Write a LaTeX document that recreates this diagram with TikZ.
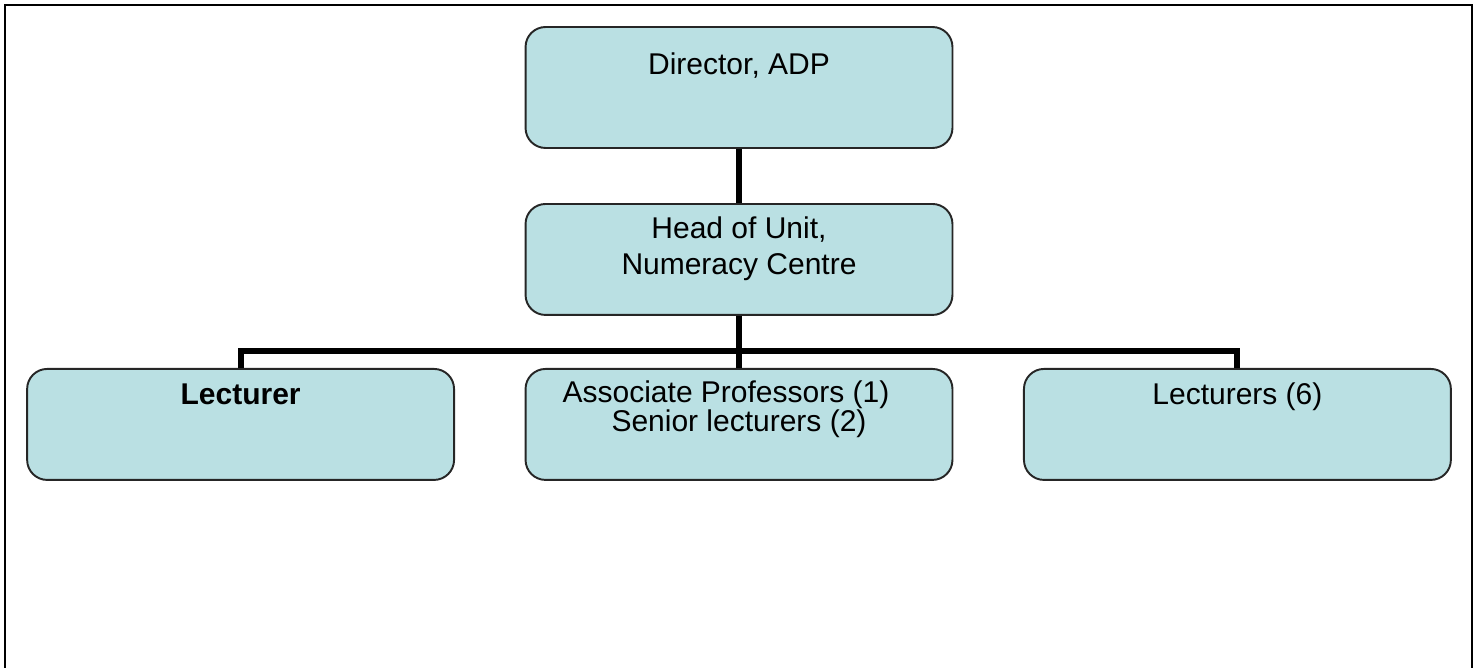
\documentclass[tikz,border=0pt]{standalone}
\usepackage{fontspec}
\setmainfont{Liberation Sans}
\usetikzlibrary{positioning}
\definecolor{boxblue}{RGB}{186,224,227}
\tikzset{
orgbox/.style={draw=black!85, line width=1.1pt, fill=boxblue, rounded corners=0.4cm,
  minimum width=8.54cm, inner sep=0pt, align=center,
  text height=0.72cm, text depth=1.5cm}, % text sits near the top of each box
link/.style={line width=3.4pt}, % the thick connectors
pageframe/.style={line width=1.1pt}, % the frame round the chart
node distance=3.3cm, % centre to centre distance between the rows
font=\fontsize{17.07pt}{20.5pt}\selectfont,
}
\begin{document}
\begin{tikzpicture}[x=0.02cm, y=-0.02cm]
    \useasboundingbox (0,0) rectangle (1479,668);
    \draw[pageframe] (5,668) -- (5,5) -- (1472,5) -- (1472,668);

    \node[orgbox, text height=0.96cm, text depth=1.46cm] (director) at (739,87.5) {Director, ADP};
    % two lines: the base is the last line, so text height holds both
    \node[orgbox, below of=director, node distance=3.44cm, text height=1.42cm, text depth=0.8cm] (head_unit) {Head of Unit,\\Numeracy Centre};

    \node[orgbox, below of=head_unit, font=\fontsize{17.07pt}{15.4pt}\selectfont, text height=1.26cm, text depth=0.96cm] (assoc_prof) {Associate Professors (1)\hspace*{0.52cm}\\Senior lecturers (2)};
    \node[orgbox, left of=assoc_prof, node distance=9.97cm] (lecturer) {\bfseries Lecturer};
    \node[orgbox, right of=assoc_prof, node distance=9.97cm] (lecturers) {Lecturers (6)};

    \coordinate[below of=head_unit, node distance=1.84cm] (bus);

    \draw[link] (director) -- (head_unit);
    \draw[link] (head_unit) -- (assoc_prof);
    \draw[link] (lecturer.north) |- (bus) -| (lecturers.north);
\end{tikzpicture}
\end{document}
